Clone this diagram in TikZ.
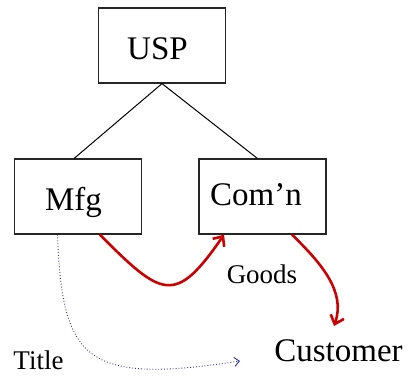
\documentclass[tikz,border=0pt]{standalone}
\usepackage{fontspec}
\setmainfont{Liberation Serif}
\usetikzlibrary{arrows.meta,calc}
\definecolor{goodsred}{RGB}{204,0,0}
\definecolor{titleblue}{RGB}{50,50,170}
\begin{document}
\begin{tikzpicture}[x=1pt,y=-1pt,
  box/.style={draw=black!85,line width=1.2pt,minimum width=127pt,minimum height=75pt,inner sep=0pt},
  bigtext/.style={font=\fontsize{33}{36}\selectfont,anchor=base,inner sep=0pt},
  smalltext/.style={font=\fontsize{27}{30}\selectfont,anchor=base,inner sep=0pt},
  tree/.style={draw=black,line width=1pt},
  goods/.style={draw=goodsred,line width=2.6pt,-{Straight Barb[length=8pt,width=14pt,line width=2.6pt]}},
  title/.style={draw=titleblue,line width=0.9pt,dotted,-{Straight Barb[length=5pt,width=9pt,line width=0.9pt]}}]
\useasboundingbox (0,0) rectangle (409,375);

% organisation boxes
\node[box] (usp) at (162,45.5) {};
\node[box] (mfg) at (78,196.5) {};
\node[box] (comn) at (262.5,196.5) {};

% box captions
\node[bigtext] (usplabel) at (157.5,59) {USP};
\node[bigtext] (mfglabel) at (73.5,210) {Mfg};
\node[bigtext] (comnlabel) at (256,205) {Com’n};

% free labels
\node[smalltext] (goodslabel) at (262,283) {Goods};
\node[bigtext] (customer) at (338.5,361) {Customer};
\node[smalltext] (titlelabel) at (38.5,369) {Title};

% tree links
\draw[tree] (usp.south) -- ($(mfg.north west)!0.47!(mfg.north east)$);
\draw[tree] (usp.south) -- ($(comn.north west)!0.46!(comn.north east)$);

% flow of goods
\coordinate (custtip) at (334,326);
\draw[goods] ($(mfg.south west)!0.67!(mfg.south east)$)
  .. controls (162,297) and (175,306) .. ($(comn.south west)!0.2!(comn.south east)$);
\draw[goods] ($(comn.south west)!0.73!(comn.south east)$)
  .. controls (322,264) and (346,292) .. (custtip);

% flow of title
\coordinate (titletip) at (240,361);
\draw[title] ($(mfg.south west)!0.34!(mfg.south east)$)
  .. controls (62,360) and (85,385) .. (titletip);
\end{tikzpicture}
\end{document}
